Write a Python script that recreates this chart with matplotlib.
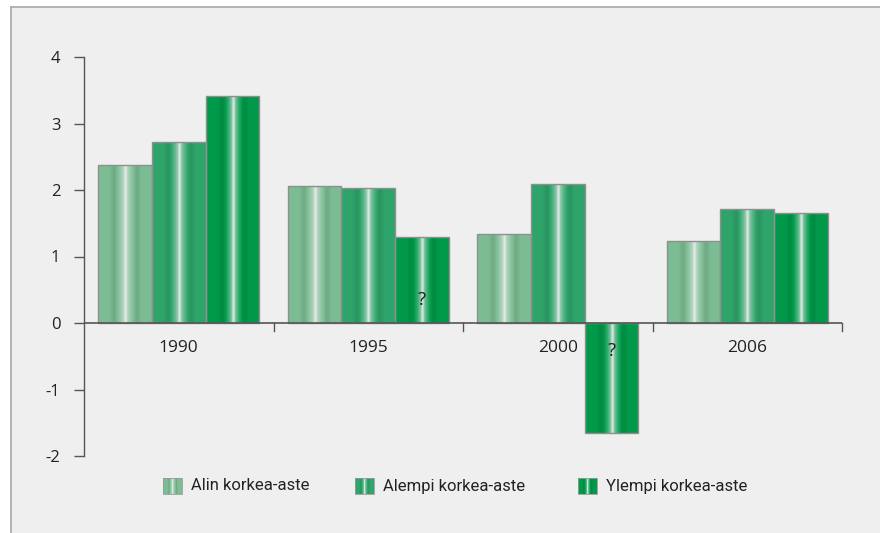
import numpy as np
import matplotlib
matplotlib.use("Agg")
import matplotlib.pyplot as plt
from matplotlib.patches import Rectangle
from matplotlib.lines import Line2D
from matplotlib.colors import to_rgb

years = ["1990", "1995", "2000", "2006"]
series_names = ["Alin korkea-aste", "Alempi korkea-aste", "Ylempi korkea-aste"]
alin = [2.38, 2.06, 1.34, 1.23]
alempi = [2.72, 2.03, 2.09, 1.71]
ylempi = [3.41, 1.29, -1.65, 1.65]
series_values = [alin, alempi, ylempi]
base_colors = ["#7dbd94", "#2fa56b", "#009a4a"]
question_marks = [(1, 2, 0.35), (2, 2, -0.42)]  # (year index, series index, y)
yticks = [-2, -1, 0, 1, 2, 3, 4]

W, H = 880, 533
fig = plt.figure(figsize=(W / 100, H / 100), dpi=100, facecolor="white")

# frame background
fig.patches.append(Rectangle((11 / W, 0), 1, 1 - 7 / H, transform=fig.transFigure,
                             facecolor="#efefef", edgecolor="none", zorder=-10))
fig.lines.append(Line2D([11 / W, 11 / W], [0, 1 - 7 / H], transform=fig.transFigure,
                        color="#a8a8a8", lw=1.2))
fig.lines.append(Line2D([11 / W, 1], [1 - 7 / H, 1 - 7 / H], transform=fig.transFigure,
                        color="#a8a8a8", lw=1.2))

ax = fig.add_axes([84 / W, (H - 456) / H, (842 - 84) / W, (456 - 57) / H])
ax.patch.set_alpha(0)


def profile(t):
    w = (0.55 * np.exp(-((t - 0.51) / 0.10) ** 2)
         + 0.38 * np.exp(-((t - 0.51) / 0.025) ** 2)
         - 0.10 * np.exp(-((t - 0.30) / 0.06) ** 2)
         - 0.10 * np.exp(-((t - 0.72) / 0.06) ** 2))
    return w


def grad_rgb(color, n=200):
    t = np.linspace(0, 1, n)
    w = profile(t)
    c = np.array(to_rgb(color))
    white = np.array([0.93, 0.93, 0.93])
    out = np.empty((n, 3))
    for i, wi in enumerate(w):
        if wi >= 0:
            out[i] = c * (1 - wi) + white * wi
        else:
            out[i] = c * (1 + wi)
    return out


bw = 0.284
x = np.arange(len(years))
for si, vals in enumerate(series_values):
    offs = (si - 1) * bw
    bars = ax.bar(x + offs, vals, width=bw, facecolor="none", edgecolor="#8f8f8f",
                  linewidth=1.0, zorder=3)
    g = grad_rgb(base_colors[si])[np.newaxis, :, :]
    for b in bars:
        x0, y0 = b.get_x(), b.get_y()
        w_, h_ = b.get_width(), b.get_height()
        im = ax.imshow(g, extent=[x0, x0 + w_, min(y0, y0 + h_), max(y0, y0 + h_)],
                       aspect="auto", interpolation="bilinear", zorder=2)
        im.set_clip_path(b)

for yi, si, yy in question_marks:
    ax.text(x[yi] + (si - 1) * bw, yy, "?", ha="center", va="center",
            fontsize=13.5, family=["Open Sans", "DejaVu Sans"], color="#222222", zorder=5)

ax.set_xlim(-0.5, len(years) - 0.5)
ax.set_ylim(-2, 4)
ax.set_yticks(yticks)
ax.set_yticklabels([str(v) for v in yticks], family=["Open Sans", "DejaVu Sans"],
                   fontsize=12, color="#222222")
ax.tick_params(axis="y", length=7, width=1, color="#555555", pad=10)

for s in ["top", "right", "bottom"]:
    ax.spines[s].set_visible(False)
ax.spines["left"].set_color("#555555")
ax.spines["left"].set_linewidth(1.0)

ax.set_xticks([])
ax.axhline(0, color="#555555", lw=1.2, zorder=4)
for b in np.arange(0.5, len(years), 1.0):
    ax.plot([b, b], [0, -0.12], color="#555555", lw=1.0, zorder=4, clip_on=False)
for i, yr in enumerate(years):
    ax.text(x[i], -0.38, yr, ha="center", va="center", fontsize=12.5,
            family=["Open Sans", "DejaVu Sans"], color="#222222")

# legend
leg_px = [163, 355, 578]
for si, name in enumerate(series_names):
    g = grad_rgb(base_colors[si], n=19)
    px0 = leg_px[si]
    for k in range(19):
        fig.patches.append(Rectangle(((px0 + k) / W, (H - 494) / H), 1.05 / W, 16 / H,
                                     transform=fig.transFigure, facecolor=g[k],
                                     edgecolor="none"))
    fig.patches.append(Rectangle((px0 / W, (H - 494) / H), 19 / W, 16 / H,
                                 transform=fig.transFigure, facecolor="none",
                                 edgecolor="#999999", lw=0.6))
    fig.text((px0 + 28) / W, (H - 486) / H, name, ha="left", va="center",
             fontsize=12, family=["Roboto", "DejaVu Sans"],
             color="#222222")

fig.savefig("out.png", dpi=100, facecolor=fig.get_facecolor())
